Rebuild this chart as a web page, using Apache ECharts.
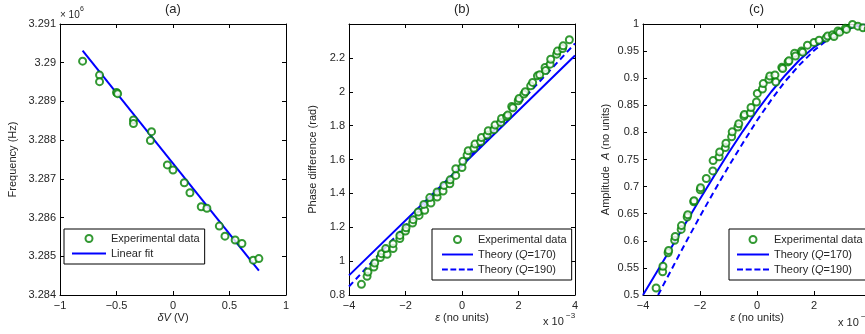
<!DOCTYPE html>
<html><head><meta charset="utf-8">
<script src="https://cdn.jsdelivr.net/npm/echarts/dist/echarts.min.js"></script>
<style>html,body{margin:0;padding:0;background:#fff}#c{width:865px;height:334px}</style>
</head><body><div id="c"></div>
<script>
// ---------- Panel (a): frequency vs deltaV (values in units of 10^6 Hz) ----------
const aExpX = [-0.80, -0.65, -0.65, -0.50, -0.49, -0.35, -0.35, -0.19, -0.20, -0.05, 0.00, 0.10, 0.15, 0.25, 0.30, 0.41, 0.46, 0.55, 0.61, 0.71, 0.76];
const aExpY = [3.29004, 3.28968, 3.28951, 3.28923, 3.28920, 3.28852, 3.28843, 3.28822, 3.28799, 3.28736, 3.28723, 3.28690, 3.28664, 3.28628, 3.28624, 3.28578, 3.28552, 3.28542, 3.28533, 3.28490, 3.28494];
const aFitX = [-0.80, 0.76];
const aFitY = [3.29031, 3.28463];

// ---------- Panel (b): phase difference vs epsilon (x in units of 10^-3) ----------
const bExpX = [-3.56, -3.36, -3.33, -3.12, -3.09, -2.89, -2.85, -2.65, -2.70, -2.44, -2.44, -2.20, -2.20, -2.00, -1.98, -1.75, -1.73, -1.52, -1.55, -1.32, -1.35, -1.10, -1.14, -0.88, -0.88, -0.67, -0.64, -0.43, -0.42, -0.22, -0.22, 0.00, 0.03, 0.18, 0.22, 0.42, 0.46, 0.66, 0.69, 0.89, 0.93, 1.13, 1.17, 1.37, 1.40, 1.58, 1.62, 1.76, 1.80, 1.99, 2.02, 2.19, 2.24, 2.43, 2.50, 2.67, 2.75, 2.94, 2.96, 3.12, 3.14, 3.35, 3.38, 3.56, 3.58, 3.80];
const bExpY = [0.863, 0.910, 0.936, 0.965, 0.989, 1.021, 1.044, 1.040, 1.074, 1.074, 1.103, 1.133, 1.152, 1.178, 1.197, 1.225, 1.245, 1.270, 1.290, 1.300, 1.335, 1.343, 1.375, 1.378, 1.408, 1.414, 1.447, 1.457, 1.480, 1.506, 1.546, 1.553, 1.590, 1.626, 1.652, 1.666, 1.691, 1.705, 1.730, 1.744, 1.770, 1.776, 1.803, 1.819, 1.842, 1.854, 1.862, 1.913, 1.905, 1.947, 1.960, 1.986, 2.000, 2.035, 2.055, 2.094, 2.100, 2.143, 2.125, 2.163, 2.192, 2.222, 2.240, 2.255, 2.271, 2.307];
const bTheoryX = [-4, 0, 4];
const bQ170 = [0.916, 1.565, 2.214];
const bQ190 = [0.850, 1.567, 2.285];

// ---------- Panel (c): amplitude vs epsilon (x in units of 10^-3) ----------
const cExpX = [-3.54, -3.31, -3.30, -3.12, -3.10, -2.89, -2.87, -2.66, -2.65, -2.45, -2.43, -2.22, -2.21, -1.99, -1.98, -1.78, -1.55, -1.54, -1.33, -1.31, -1.11, -1.09, -0.89, -0.87, -0.67, -0.64, -0.46, -0.44, -0.23, -0.21, -0.02, 0.01, 0.19, 0.22, 0.42, 0.45, 0.63, 0.66, 0.87, 0.90, 1.09, 1.12, 1.32, 1.35, 1.56, 1.60, 1.77, 2.00, 2.18, 2.42, 2.48, 2.65, 2.70, 2.84, 2.90, 3.10, 3.14, 3.35, 3.54, 3.72, 3.90];
const cExpY = [0.513, 0.543, 0.553, 0.578, 0.582, 0.601, 0.608, 0.621, 0.628, 0.644, 0.648, 0.672, 0.674, 0.694, 0.698, 0.715, 0.729, 0.748, 0.755, 0.764, 0.772, 0.780, 0.792, 0.801, 0.810, 0.816, 0.830, 0.833, 0.836, 0.846, 0.856, 0.872, 0.880, 0.890, 0.898, 0.904, 0.906, 0.893, 0.920, 0.918, 0.930, 0.932, 0.946, 0.941, 0.950, 0.948, 0.961, 0.966, 0.970, 0.974, 0.978, 0.980, 0.977, 0.987, 0.985, 0.992, 0.990, 0.999, 0.996, 0.993, 0.991];
const cQ170X = [-4, -3.5, -3, -2.5, -2, -1.5, -1, -0.5, 0, 0.5, 1, 1.5, 2, 2.5, 3, 3.5, 4];
const cQ170 = [0.500, 0.544, 0.588, 0.633, 0.677, 0.720, 0.762, 0.802, 0.840, 0.875, 0.906, 0.934, 0.957, 0.975, 0.989, 0.997, 1.000];
const cQ190X = [-3.47, -3, -2.5, -2, -1.5, -1, -0.5, 0, 0.5, 1, 1.5, 2, 2.5, 3, 3.5, 4];
const cQ190 = [0.500, 0.547, 0.597, 0.645, 0.692, 0.737, 0.780, 0.822, 0.860, 0.895, 0.925, 0.951, 0.972, 0.987, 0.996, 1.000];

const expName = 'Experimental data';
const fitName = 'Linear fit';
const q170Name = 'Theory (Q=170)';
const q190Name = 'Theory (Q=190)';

// ---------- styling ----------
const FONT = '"Liberation Sans", Arial, Helvetica, sans-serif';
const TXT = '#262626';
const GREEN = '#008000';
const BLUE = '#0000ff';
const pairs = (xs, ys) => xs.map((x, i) => [x, ys[i]]);
const fmt = v => String(parseFloat(Number(v).toFixed(4))).replace('-', '\u2212');

const grids = [
  {left: 60, top: 24, width: 226, height: 271},
  {left: 349, top: 24, width: 226, height: 271},
  {left: 643, top: 24, width: 228, height: 271}
].map(g => Object.assign({outerBoundsMode: 'none', containLabel: false, show: false}, g));

const italicRich = {i: {fontStyle: 'italic', fontFamily: FONT, fontSize: 11, color: TXT}};

function xAxes(gi, min, max, interval, name, gap) {
  const common = {type: 'value', gridIndex: gi, min, max, interval,
    splitLine: {show: false},
    axisLine: {show: true, onZero: false, lineStyle: {color: '#000', width: 1}},
    axisTick: {show: true, inside: true, length: 4, lineStyle: {color: '#000'}}};
  return [
    Object.assign({}, common, {position: 'bottom', name, nameLocation: 'middle', nameGap: gap,
      nameMoveOverlap: false,
      nameTextStyle: {fontFamily: FONT, fontSize: 11, color: TXT, rich: italicRich},
      axisLabel: {show: true, margin: 5, fontFamily: FONT, fontSize: 11, color: TXT, formatter: fmt}}),
    Object.assign({}, common, {position: 'top', axisLabel: {show: false}})
  ];
}
function yAxes(gi, min, max, interval, name, gap, hideMax) {
  const common = {type: 'value', gridIndex: gi, min, max, interval,
    splitLine: {show: false},
    axisLine: {show: true, onZero: false, lineStyle: {color: '#000', width: 1}},
    axisTick: {show: true, inside: true, length: 4, lineStyle: {color: '#000'}}};
  return [
    Object.assign({}, common, {position: 'left', name, nameLocation: 'middle', nameGap: gap,
      nameMoveOverlap: false,
      nameTextStyle: {fontFamily: FONT, fontSize: 11, color: TXT, rich: italicRich},
      axisLabel: {show: true, margin: 4, fontFamily: FONT, fontSize: 11, color: TXT, formatter: fmt,
        showMaxLabel: hideMax ? false : null}}),
    Object.assign({}, common, {position: 'right', axisLabel: {show: false}})
  ];
}

const xAxis = [].concat(
  xAxes(0, -1, 1, 0.5, '{i|δV} (V)', 17),
  xAxes(1, -4, 4, 2, '{i|ε} (no units)', 17),
  xAxes(2, -4, 4, 2, '{i|ε} (no units)', 17)
);
const yAxis = [].concat(
  yAxes(0, 3.284, 3.291, 0.001, 'Frequency (Hz)', 42, false),
  yAxes(1, 0.8, 2.4, 0.2, 'Phase difference (rad)', 31, true),
  yAxes(2, 0.5, 1, 0.05, 'Amplitude  {i|A} (no units)', 32, false)
);

function scatter(idx, xs, ys) {
  return {type: 'scatter', name: expName, xAxisIndex: idx * 2, yAxisIndex: idx * 2,
    data: pairs(xs, ys), symbol: 'emptyCircle', symbolSize: 7,
    itemStyle: {color: GREEN, borderColor: GREEN, borderWidth: 1.6},
    emphasis: {disabled: true}, z: 3};
}
function line(idx, name, xs, ys, dashed) {
  return {type: 'line', name, xAxisIndex: idx * 2, yAxisIndex: idx * 2,
    data: pairs(xs, ys), symbol: 'none', showSymbol: false, smooth: false,
    lineStyle: {color: BLUE, width: 2, type: dashed ? [6, 4] : 'solid'},
    itemStyle: {color: BLUE}, emphasis: {disabled: true}, z: 2};
}

const series = [
  scatter(0, aExpX, aExpY),
  line(0, fitName, aFitX, aFitY, false),
  scatter(1, bExpX, bExpY),
  line(1, q170Name, bTheoryX, bQ170, false),
  line(1, q190Name, bTheoryX, bQ190, true),
  scatter(2, cExpX, cExpY),
  line(2, q170Name, cQ170X, cQ170, false),
  line(2, q190Name, cQ190X, cQ190, true)
];

// legend sample icons: solid bar and dashed bar (2px tall)
const SOLID_ICON = 'path://M0,0h32v2h-32z';
const DASH_ICON = 'path://M0,0h6v2h-6zM8.7,0h6v2h-6zM17.4,0h6v2h-6zM26,0h6v2h-6z';

function legend(left, top, pad, itemWidth, names) {
  return {show: true, orient: 'vertical', left, top, padding: pad, itemWidth, itemHeight: 7, itemGap: 4,
    symbolKeepAspect: true,
    backgroundColor: '#fff', borderColor: '#000', borderWidth: 1, borderRadius: 0,
    selectedMode: false, z: 10,
    data: names.map(n => n === expName ? {name: n, icon: 'emptyCircle'}
      : {name: n, icon: n === q190Name ? DASH_ICON : SOLID_ICON, itemStyle: {color: BLUE, borderWidth: 0}}),
    formatter: n => n.replace(/Q=/, '{i|Q}='),
    textStyle: {fontFamily: FONT, fontSize: 11, color: TXT, rich: italicRich}};
}

const option = {
  animation: false,
  backgroundColor: '#fff',
  grid: grids,
  xAxis, yAxis, series,
  legend: [
    legend(64, 229, [4, 5, 5, 8], 34, [expName, fitName]),
    legend(432, 229, [5, 5, 5, 10], 31, [expName, q170Name, q190Name]),
    legend(729, 229, [5, 5, 5, 8], 32, [expName, q170Name, q190Name])
  ],
  graphic: [
    {type: 'text', left: 165, top: 3, style: {text: '(a)', font: '13px ' + FONT, fill: TXT}},
    {type: 'text', left: 454, top: 3, style: {text: '(b)', font: '13px ' + FONT, fill: TXT}},
    {type: 'text', left: 749, top: 3, style: {text: '(c)', font: '13px ' + FONT, fill: TXT}},
    {type: 'text', left: 60, top: 10, style: {text: '× 10', font: '10px ' + FONT, fill: TXT}},
    {type: 'text', left: 80, top: 6, style: {text: '6', font: '7px ' + FONT, fill: TXT}},
    {type: 'text', left: 543, top: 316, style: {text: 'x 10', font: '11px ' + FONT, fill: TXT}},
    {type: 'text', left: 566, top: 312, style: {text: '\u22123', font: '8px ' + FONT, fill: TXT}},
    {type: 'text', left: 838, top: 317, style: {text: 'x 10', font: '11px ' + FONT, fill: TXT}},
    {type: 'text', left: 861, top: 313, style: {text: '\u22123', font: '8px ' + FONT, fill: TXT}}
  ]
};

const chart = echarts.init(document.getElementById('c'), null, {renderer: 'canvas'});
chart.setOption(option);
</script>
</body></html>
